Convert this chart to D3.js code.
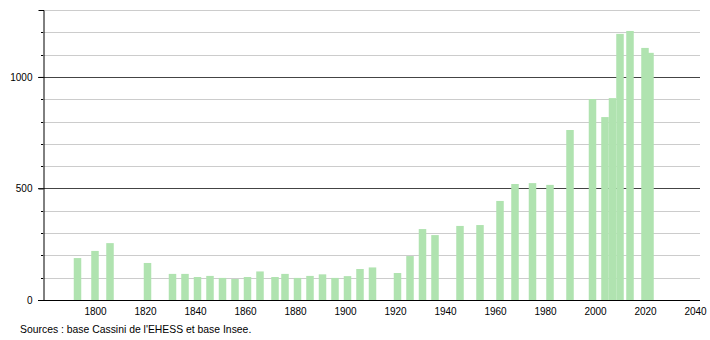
<!DOCTYPE html>
<html>
<head>
<meta charset="utf-8">
<script src="https://cdn.jsdelivr.net/npm/d3@7"></script>
<style>
  body { margin: 0; background: #fff; }
  text { font-family: "Liberation Sans", Arial, sans-serif; }
</style>
</head>
<body>
<div class="chart-container"></div>
<script>
/********** the Data **********/
const years = [1793, 1800, 1806, 1821, 1831, 1836, 1841, 1846, 1851, 1856,
  1861, 1866, 1872, 1876, 1881, 1886, 1891, 1896, 1901, 1906,
  1911, 1921, 1926, 1931, 1936, 1946, 1954, 1962, 1968, 1975,
  1982, 1990, 1999, 2004, 2007, 2010, 2014, 2020, 2022];
const population = [188, 220, 255, 166, 117, 117, 103, 108, 99, 94,
  103, 128, 103, 117, 99, 108, 115, 99, 107, 139,
  146, 121, 197, 318, 291, 332, 336, 444, 520, 524,
  516, 762, 901, 820, 905, 1193, 1206, 1130, 1108];
const yMajorTicks = [0, 500, 1000];
const xTickLabels = [1800, 1820, 1840, 1860, 1880, 1900, 1920, 1940, 1960, 1980, 2000, 2020, 2040];
const sourceText = "Sources : base Cassini de l'EHESS et base Insee.";

/********** drawChart **********/
function drawChart() {
  let width = 710, height = 340;
  let margin = {top: 10, right: 10, bottom: 40, left: 43};

  let xScale = d3.scaleLinear()
    .domain([1779.2, 2040])
    .range([margin.left, width - 15]);

  let yScale = d3.scaleLinear()
    .domain([0, 1300])
    .range([height - margin.bottom, margin.top]);

  let barW = 7.5;
  let fontSize = 10;

  let svg = d3.select(".chart-container")
    .append("svg")
      .attr("width", width)
      .attr("height", height);

  // minor gridlines every 100
  let minor = d3.range(100, 1301, 100).filter(d => d % 500 !== 0);
  svg.append("g")
    .selectAll("line")
    .data(minor)
    .enter().append("line")
      .attr("x1", margin.left - 2)
      .attr("x2", width - 10)
      .attr("y1", d => Math.round(yScale(d)) + 0.5)
      .attr("y2", d => Math.round(yScale(d)) + 0.5)
      .attr("stroke", "#cccccc")
      .attr("stroke-width", 1);

  // major gridlines at 500 / 1000
  svg.append("g")
    .selectAll("line")
    .data(yMajorTicks.filter(d => d > 0))
    .enter().append("line")
      .attr("x1", margin.left - 5)
      .attr("x2", width - 10)
      .attr("y1", d => Math.round(yScale(d)) + 0.5)
      .attr("y2", d => Math.round(yScale(d)) + 0.5)
      .attr("stroke", "#444")
      .attr("stroke-width", 1);

  // bars
  svg.append("g")
    .selectAll("rect")
    .data(years)
    .enter().append("rect")
      .attr("x", d => xScale(d) - barW / 2)
      .attr("width", barW)
      .attr("y", (d, i) => yScale(population[i]))
      .attr("height", (d, i) => yScale(0) - yScale(population[i]))
      .attr("fill", "#b0e3b0");

  // y axis
  let yAxis = d3.axisLeft(yScale)
    .tickValues(yMajorTicks)
    .tickSize(5)
    .tickPadding(6)
    .tickFormat(d3.format("d"));
  let yG = svg.append("g")
    .attr("transform", `translate(${margin.left + 0.5}, 0)`)
    .call(yAxis);
  yG.select(".domain").attr("stroke", "#000");
  yG.selectAll("text").attr("font-size", fontSize).attr("fill", "#000");

  // y minor tick marks
  svg.append("g")
    .selectAll("line")
    .data(minor)
    .enter().append("line")
      .attr("x1", margin.left - 2)
      .attr("x2", margin.left)
      .attr("y1", d => Math.round(yScale(d)) + 0.5)
      .attr("y2", d => Math.round(yScale(d)) + 0.5)
      .attr("stroke", "#000");

  // x axis
  let xAxis = d3.axisBottom(xScale)
    .tickValues(xTickLabels)
    .tickSize(0)
    .tickPadding(7)
    .tickFormat(d3.format("d"));
  let xG = svg.append("g")
    .attr("transform", `translate(0, ${yScale(0) + 0.5})`)
    .call(xAxis);
  xG.select(".domain")
    .attr("d", `M${margin.left - 5},0H${width - 10}`)
    .attr("stroke", "#000");
  xG.selectAll("text").attr("font-size", fontSize).attr("fill", "#000");

  // source line
  svg.append("text")
    .attr("x", 20)
    .attr("y", 333)
    .attr("font-size", 10.4)
    .attr("fill", "#000")
    .text(sourceText);
}

drawChart();
</script>
</body>
</html>
